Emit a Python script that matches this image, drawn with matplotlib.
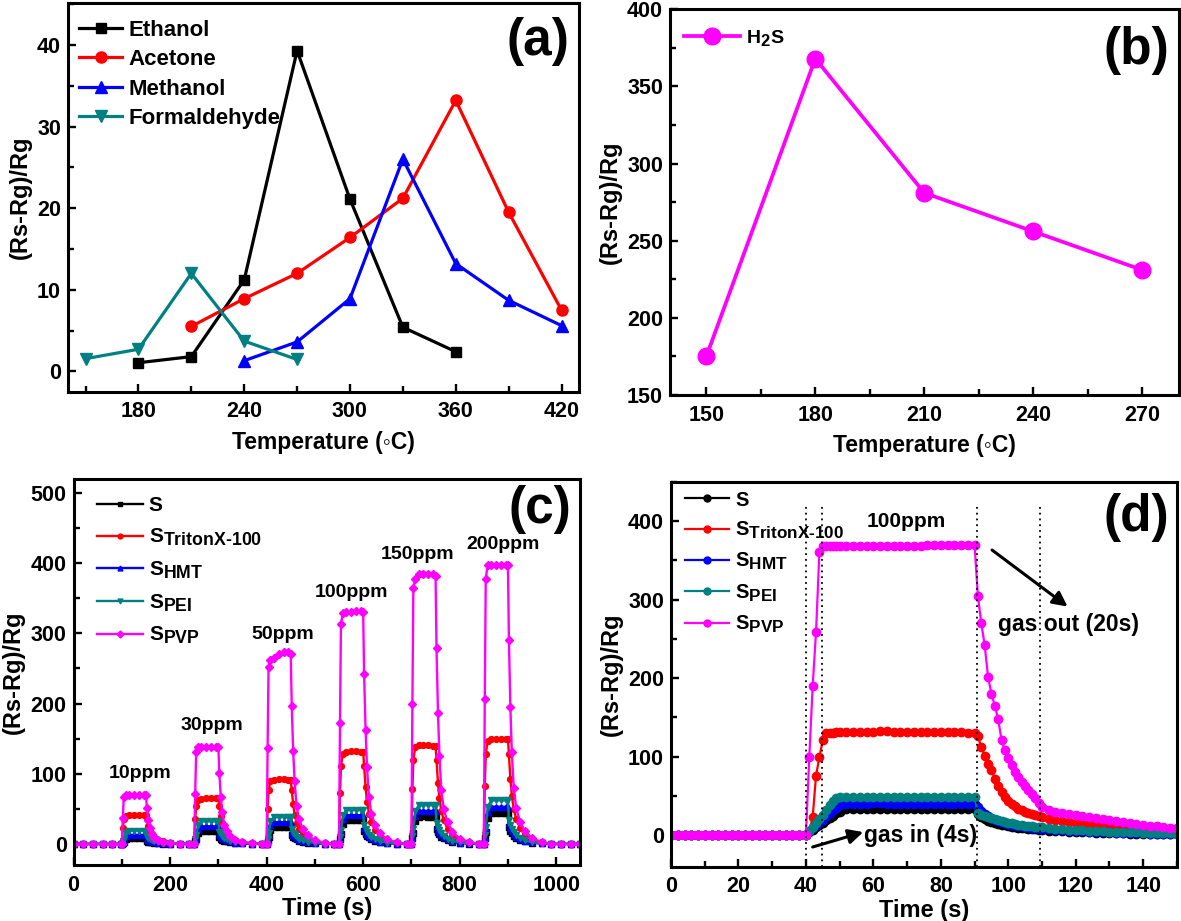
import matplotlib
matplotlib.use("Agg")
import matplotlib.pyplot as plt
from matplotlib.ticker import MultipleLocator
try:
    import matplotlib._mathtext as _mt
    _mt.SHRINK_FACTOR = 0.85
except Exception:
    pass

plt.rcParams['font.family'] = ['Liberation Sans', 'DejaVu Sans']
plt.rcParams['font.weight'] = 'bold'
plt.rcParams['axes.labelweight'] = 'bold'
plt.rcParams['mathtext.fontset'] = 'custom'
plt.rcParams['mathtext.rm'] = 'Liberation Sans:bold'
plt.rcParams['mathtext.it'] = 'Liberation Sans:bold'
plt.rcParams['mathtext.bf'] = 'Liberation Sans:bold'

# ---------------- (a) ----------------
ethanol_T = [180, 210, 240, 270, 300, 330, 360]
ethanol_R = [1.05, 1.8, 11.2, 39.3, 21.1, 5.4, 2.4]
acetone_T = [210, 240, 270, 300, 330, 360, 390, 420]
acetone_R = [5.5, 8.9, 12.0, 16.4, 21.2, 33.2, 19.5, 7.5]
methanol_T = [240, 270, 300, 330, 360, 390, 420]
methanol_R = [1.3, 3.6, 8.9, 26.0, 13.2, 8.7, 5.6]
formal_T = [150, 180, 210, 240, 270]
formal_R = [1.55, 2.7, 12.0, 3.7, 1.45]

# ---------------- (b) ----------------
h2s_T = [150, 180, 210, 240, 270]
h2s_R = [175, 368, 281, 256, 231]

# ---------------- (c) ----------------
t_c = [0, 20, 40, 60, 80, 98,
       100, 102, 104, 108, 115, 125, 135, 145, 150, 152, 155, 158, 162, 167, 175, 185, 200, 220, 240,
       250, 252, 254, 258, 265, 275, 285, 295, 300, 302, 305, 308, 312, 317, 325, 335, 350, 370, 390,
       400, 402, 404, 408, 415, 425, 435, 445, 450, 452, 455, 458, 462, 467, 475, 485, 500, 520, 540,
       550, 552, 554, 558, 565, 575, 585, 595, 600, 602, 605, 608, 612, 617, 625, 635, 650, 670, 690,
       700, 702, 704, 708, 715, 725, 735, 745, 750, 752, 755, 758, 762, 767, 775, 785, 800, 820, 840,
       850, 852, 854, 858, 865, 875, 885, 895, 900, 902, 905, 908, 912, 917, 925, 935, 950, 970, 990,
       1010, 1030, 1050]
S_c = [0, 0, 0, 0, 0, 0,
       0, 1.6, 3.2, 6.8, 8.0, 8.1, 8.0, 7.9, 8.0, 4.4, 3.4, 2.8, 2.2, 1.6, 1.1, 0.6, 0.3, 0.1, 0,
       0, 3.6, 7.2, 15.3, 18.0, 18.2, 18.1, 18.0, 18.0, 9.9, 7.7, 6.3, 4.9, 3.6, 2.5, 1.4, 0.7, 0.3, 0,
       0, 4.8, 9.6, 20.4, 24.0, 24.2, 24.1, 24.0, 24.0, 13.2, 10.3, 8.4, 6.5, 4.8, 3.4, 1.9, 1.0, 0.4, 0,
       0, 6.8, 13.6, 28.9, 34.0, 34.2, 34.1, 34.0, 34.0, 18.7, 14.6, 11.9, 9.2, 6.8, 4.8, 2.7, 1.4, 0.5, 0,
       0, 7.8, 15.6, 33.2, 39.0, 39.2, 39.1, 39.0, 39.0, 21.5, 16.8, 13.7, 10.5, 7.8, 5.5, 3.1, 1.6, 0.6, 0,
       0, 8.8, 17.6, 37.4, 44.0, 44.2, 44.1, 44.0, 44.0, 24.2, 18.9, 15.4, 11.9, 8.8, 6.2, 3.5, 1.8, 0.7, 0,
       0, 0, 0]
HMT_c = [0, 0, 0, 0, 0, 0,
         0, 2.6, 5.2, 11.1, 13.0, 13.1, 13.0, 13.0, 13.0, 7.2, 5.6, 4.6, 3.5, 2.6, 1.8, 1.0, 0.5, 0.2, 0,
         0, 5.0, 10.0, 21.3, 25.0, 25.2, 25.1, 25.0, 25.0, 13.8, 10.8, 8.8, 6.8, 5.0, 3.5, 2.0, 1.0, 0.4, 0,
         0, 6.2, 12.4, 26.4, 31.0, 31.2, 31.1, 31.0, 31.0, 17.1, 13.3, 10.9, 8.4, 6.2, 4.3, 2.5, 1.2, 0.5, 0,
         0, 8.2, 16.4, 34.9, 41.0, 41.2, 41.1, 41.0, 41.0, 22.6, 17.6, 14.4, 11.1, 8.2, 5.7, 3.3, 1.6, 0.6, 0,
         0, 9.4, 18.8, 40.0, 47.0, 47.2, 47.1, 47.0, 47.0, 25.9, 20.2, 16.5, 12.7, 9.4, 6.6, 3.8, 1.9, 0.7, 0,
         0, 10.6, 21.2, 45.1, 53.0, 53.2, 53.1, 53.0, 53.0, 29.2, 22.8, 18.6, 14.3, 10.6, 7.4, 4.2, 2.1, 0.8, 0,
         0, 0, 0]
PEI_c = [0, 0, 0, 0, 0, 0,
         0, 3.8, 7.6, 16.2, 19.0, 19.1, 19.0, 19.0, 19.0, 10.5, 8.2, 6.7, 5.1, 3.8, 2.7, 1.5, 0.8, 0.3, 0,
         0, 6.4, 12.8, 27.2, 32.0, 32.2, 32.1, 32.0, 32.0, 17.6, 13.8, 11.2, 8.6, 6.4, 4.5, 2.6, 1.3, 0.5, 0,
         0, 7.6, 15.2, 32.3, 38.0, 38.2, 38.1, 38.0, 38.0, 20.9, 16.3, 13.3, 10.3, 7.6, 5.3, 3.0, 1.5, 0.6, 0,
         0, 9.6, 19.2, 40.8, 48.0, 48.2, 48.1, 48.0, 48.0, 26.4, 20.6, 16.8, 13.0, 9.6, 6.7, 3.8, 1.9, 0.7, 0,
         0, 11.0, 22.0, 46.8, 55.0, 55.2, 55.1, 55.0, 55.0, 30.3, 23.7, 19.3, 14.9, 11.0, 7.7, 4.4, 2.2, 0.8, 0,
         0, 12.4, 24.8, 52.7, 62.0, 62.2, 62.1, 62.0, 62.0, 34.1, 26.7, 21.7, 16.7, 12.4, 8.7, 5.0, 2.5, 0.9, 0,
         0, 0, 0]
Triton_c = [0, 0, 0, 0, 0, 0,
            0, 22.6, 34.9, 40.2, 41.0, 41.0, 41.0, 41.0, 41.0, 34.9, 25.4, 18.9, 13.5, 9.8, 6.2, 3.7, 1.6, 0.6, 0,
            0, 35.2, 54.4, 62.7, 64.0, 65.0, 65.0, 65.0, 65.0, 54.4, 39.7, 29.4, 21.1, 15.4, 9.6, 5.8, 2.6, 1.0, 0,
            0, 50.0, 77.4, 89.2, 91.0, 92.0, 92.0, 91.0, 91.0, 77.4, 56.4, 41.9, 30.0, 21.8, 13.7, 8.2, 3.6, 1.4, 0,
            0, 72.0, 111.4, 128.4, 131.0, 132.0, 132.0, 131.0, 131.0, 111.4, 81.2, 60.3, 43.2, 31.4, 19.7, 11.8, 5.2, 2.0, 0,
            0, 77.6, 119.9, 138.2, 141.0, 141.0, 141.0, 140.0, 140.0, 119.9, 87.4, 64.9, 46.5, 33.8, 21.2, 12.7, 5.6, 2.1, 0,
            0, 82.5, 127.5, 147.0, 150.0, 150.0, 150.0, 150.0, 150.0, 127.5, 93.0, 69.0, 49.5, 36.0, 22.5, 13.5, 6.0, 2.3, 0,
            0, 0, 0]
PVP_c = [0, 0, 0, 0, 0, 0,
         0, 36.4, 66.5, 70.0, 70.0, 70.0, 70.0, 70.0, 70.0, 51.1, 34.3, 23.1, 14.0, 9.1, 5.6, 3.2, 1.4, 0.5, 0,
         0, 71.8, 131.1, 138.0, 138.0, 138.0, 138.0, 138.0, 138.0, 100.7, 67.6, 45.5, 27.6, 17.9, 11.0, 6.2, 2.8, 1.0, 0,
         0, 137.0, 252.0, 262.0, 265.0, 270.0, 274.0, 273.0, 270.0, 197.0, 132.0, 89.0, 54.0, 35.0, 21.6, 12.2, 5.4, 1.9, 0,
         0, 172.0, 314.0, 329.0, 331.0, 331.0, 332.0, 332.0, 331.0, 241.6, 162.2, 109.2, 66.2, 43.0, 26.5, 14.9, 6.6, 2.3, 0,
         0, 199.7, 364.8, 378.0, 384.0, 385.0, 385.0, 384.0, 382.0, 278.9, 187.2, 126.0, 76.4, 49.7, 30.6, 17.2, 7.6, 2.7, 0,
         0, 207.0, 378.1, 398.0, 398.0, 398.0, 398.0, 398.0, 398.0, 290.5, 195.0, 131.3, 79.6, 51.7, 31.8, 17.9, 8.0, 2.8, 0,
         0, 0, 0]
ppm_labels = ['10ppm', '30ppm', '50ppm', '100ppm', '150ppm', '200ppm']
ppm_x = [137, 286, 434, 576, 713, 890]
ppm_y = [101, 169, 299, 358, 413, 427]

# ---------------- (d) ----------------
t_d = [0, 2, 4, 6, 8, 10, 12, 14, 16, 18, 20, 22, 24, 26, 28, 30, 32, 34, 36, 38, 40,
       41, 42, 43, 44, 45, 46, 47, 48, 49, 50,
       52, 54, 56, 58, 60, 62, 64, 66, 68, 70, 72, 74, 76, 78, 80, 82, 84, 86, 88, 90,
       91, 92, 93, 94, 95, 96, 97, 98, 99, 100, 101, 102, 103, 104, 105, 106, 107, 108, 109, 110,
       112, 114, 116, 118, 120, 122, 124, 126, 128, 130, 132, 134, 136, 138, 140, 142, 144, 146, 148, 150]
S_d = [0, 0, 0, 0, 0, 0, 0, 0, 0, 0, 0, 0, 0, 0, 0, 0, 0, 0, 0, 0, 0,
       4, 7, 10, 13, 16, 19, 22, 25, 28, 30,
       33, 33, 33, 33, 33.5, 33.5, 33, 33, 33, 33, 33, 33, 33, 33, 33, 33, 33, 33, 33, 33,
       27, 23, 20.5, 18.5, 17, 15.6, 14.5, 13.5, 12.6, 11.8, 11, 10.3, 9.7, 9.1, 8.6, 8.1, 7.7, 7.3, 6.9, 6.6,
       6, 5.5, 5, 4.6, 4.2, 3.9, 3.6, 3.3, 3, 2.8, 2.6, 2.4, 2.2, 2, 1.8, 1.7, 1.5, 1.4, 1.3, 1.2]
HMT_d = [0, 0, 0, 0, 0, 0, 0, 0, 0, 0, 0, 0, 0, 0, 0, 0, 0, 0, 0, 0, 0,
         5, 9, 13, 16, 20, 24, 28, 32, 35, 38,
         40, 40, 40, 40, 40.5, 40.5, 40, 40, 40, 40, 40, 40, 40, 40, 40, 40, 40, 40, 40, 40,
         36, 31, 27, 24, 21.5, 19.5, 18, 16.6, 15.4, 14.4, 13.5, 12.7, 12, 11.3, 10.7, 10.1, 9.6, 9.1, 8.7, 8.3,
         7.6, 7, 6.4, 5.9, 5.4, 5, 4.6, 4.2, 3.9, 3.6, 3.3, 3, 2.8, 2.6, 2.4, 2.2, 2, 1.8, 1.6, 1.5]
PEI_d = [0, 0, 0, 0, 0, 0, 0, 0, 0, 0, 0, 0, 0, 0, 0, 0, 0, 0, 0, 0, 0,
         5, 10, 15, 21, 26, 32, 38, 44, 48, 49,
         49, 49, 49, 49, 49, 49, 49, 49, 49, 49, 49, 49, 49, 49, 49, 49, 49, 49, 49, 49,
         28, 26, 24.5, 23, 21.5, 20.2, 19, 17.9, 16.9, 16, 15.1, 14.3, 13.6, 12.9, 12.3, 11.7, 11.2, 10.7, 10.3, 9.9,
         9.1, 8.4, 7.8, 7.2, 6.7, 6.2, 5.8, 5.4, 5, 4.7, 4.4, 4.1, 3.8, 3.5, 3.3, 3, 2.8, 2.6, 2.4, 2.2]
Triton_d = [0, 0, 0, 0, 0, 0, 0, 0, 0, 0, 0, 0, 0, 0, 0, 0, 0, 0, 0, 0, 0,
            5, 23, 76, 100, 121, 130, 130, 130, 131, 131,
            131, 131, 131, 132, 132, 133, 133, 132, 132, 131, 131, 131, 131, 131, 131, 131, 131, 131, 130, 130,
            126, 112, 101, 91, 83, 72, 63, 55, 49, 44, 40, 37, 34, 32, 30, 28.5, 27, 25.5, 24.2, 23,
            21, 19.5, 18, 16.8, 15.6, 14.6, 13.7, 12.8, 12, 11.3, 10.6, 10, 9.4, 8.8, 8.3, 7.8, 7.3, 6.9, 6.5, 6.1]
PVP_d = [0, 0, 0, 0, 0, 0, 0, 0, 0, 0, 0, 0, 0, 0, 0, 0, 0, 0, 0, 0, 0,
         100, 190, 259, 361, 368, 368, 368, 368, 368, 368,
         368, 368, 368, 368, 368, 368, 368, 368, 368, 368, 368, 368, 370, 370, 370, 370, 370, 370, 370, 370,
         304, 270, 242, 202, 180, 165, 148, 121, 108, 98, 89, 81, 74, 68, 63, 58, 53, 47, 41, 36,
         32, 30, 28.5, 27, 25.5, 24, 22.7, 21.4, 20.2, 19, 17.8, 16.6, 15.5, 14.4, 13.3, 12.3, 11.3, 10.4, 9.5, 8.6]
gas_lines_d = [40, 44.8, 90.7, 109.3]

labels5 = ['S', r'S$_{\mathrm{TritonX\text{-}100}}$', r'S$_{\mathrm{HMT}}$',
           r'S$_{\mathrm{PEI}}$', r'S$_{\mathrm{PVP}}$']
colors5 = ['#000000', '#FF0000', '#0000FF', '#008080', '#FF00FF']

fig = plt.figure(figsize=(11.81, 9.21), dpi=100)
axA = fig.add_axes([0.0575, 0.5747, 0.4329, 0.4217])
axB = fig.add_axes([0.5673, 0.5711, 0.4307, 0.4188])
axC = fig.add_axes([0.0623, 0.0608, 0.4291, 0.4191])
axD = fig.add_axes([0.5682, 0.0590, 0.4283, 0.4180])


def style(ax, xmaj, xmin, ymaj, ymin, lsize=15.5):
    ax.xaxis.set_major_locator(MultipleLocator(xmaj))
    ax.xaxis.set_minor_locator(MultipleLocator(xmin))
    ax.yaxis.set_major_locator(MultipleLocator(ymaj))
    ax.yaxis.set_minor_locator(MultipleLocator(ymin))
    ax.tick_params(which='both', direction='in', top=False, right=False, width=1.7,
                   labelsize=lsize)
    ax.tick_params(which='major', length=5.5)
    ax.tick_params(which='minor', length=4)
    ax.tick_params(axis='x', which='both', pad=7)
    ax.tick_params(axis='y', which='both', pad=5)
    for sp in ax.spines.values():
        sp.set_linewidth(2.2)


# (a)
axA.plot(ethanol_T, ethanol_R, '-s', color='black', lw=2.3, ms=7, label='Ethanol')
axA.plot(acetone_T, acetone_R, '-o', color='#FF0000', lw=2.3, ms=8, label='Acetone')
axA.plot(methanol_T, methanol_R, '-^', color='#0000FF', lw=2.3, ms=8.5, label='Methanol')
axA.plot(formal_T, formal_R, '-v', color='#008080', lw=2.3, ms=8.5, label='Formaldehyde')
axA.set_xlim(140, 430)
axA.set_ylim(-2.5, 45.1)
style(axA, 60, 30, 10, 5)
axA.set_xlabel('Temperature (◦C)', fontsize=16.5, labelpad=6)
axA.set_ylabel('(Rs-Rg)/Rg', fontsize=17, labelpad=4)
axA.legend(loc='upper left', bbox_to_anchor=(0.022, 0.958), borderpad=0, borderaxespad=0,
           frameon=False, handlelength=1.95, handletextpad=0.26, labelspacing=0.38,
           prop={'size': 16, 'weight': 'bold'})
axA.text(0.919, 0.901, '(a)', transform=axA.transAxes, ha='center', va='center',
         fontsize=37, fontweight='bold')

# (b)
axB.plot(h2s_T, h2s_R, '-o', color='#FF00FF', lw=2.7, ms=12, label=r'H$_2$S')
axB.set_xlim(140, 280)
axB.set_ylim(150, 400)
style(axB, 30, 15, 50, 25)
axB.set_xlabel('Temperature (◦C)', fontsize=16.5, labelpad=6)
axB.set_ylabel('(Rs-Rg)/Rg', fontsize=17, labelpad=4)
axB.legend(loc='upper left', bbox_to_anchor=(0.0275, 0.952), borderpad=0, borderaxespad=0,
           frameon=False, handlelength=2.9, handletextpad=0.3,
           prop={'size': 14, 'weight': 'bold'})
axB.text(0.916, 0.894, '(b)', transform=axB.transAxes, ha='center', va='center',
         fontsize=37, fontweight='bold')

# (c)
markers_c = ['s', 'o', '^', 'v', 'D']
for ys, lab, col, mk in zip([S_c, Triton_c, HMT_c, PEI_c, PVP_c], labels5, colors5, markers_c):
    axC.plot(t_c, ys, '-', marker=mk, color=col, lw=1.7, ms=4.2, label=lab)
axC.set_xlim(0, 1050)
axC.set_ylim(-30, 520)
style(axC, 200, 100, 100, 50)
axC.set_xlabel('Time (s)', fontsize=17, labelpad=1)
axC.set_ylabel('(Rs-Rg)/Rg', fontsize=17, labelpad=4)
for lab, x, y in zip(ppm_labels, ppm_x, ppm_y):
    axC.text(x, y, lab, ha='center', va='center', fontsize=14, fontweight='bold')
legC = axC.legend(loc='upper left', bbox_to_anchor=(0.0456, 0.955), borderpad=0, borderaxespad=0,
                  frameon=False, handlelength=2.24, handletextpad=0.25, labelspacing=0.55,
                  prop={'size': 15, 'weight': 'bold'})
for h in legC.legend_handles:
    h.set_markersize(3.5)
axC.text(0.92, 0.92, '(c)', transform=axC.transAxes, ha='center', va='center',
         fontsize=37, fontweight='bold')

# (d)
for ys, lab, col in zip([S_d, Triton_d, HMT_d, PEI_d, PVP_d], labels5, colors5):
    axD.plot(t_d, ys, '-o', color=col, lw=1.6, ms=6, label=lab)
axD.vlines(gas_lines_d, -40, 420, colors='black', linestyles=(0, (1, 2.2)), lw=1.3)
axD.set_xlim(0, 150)
axD.set_ylim(-40, 450)
style(axD, 20, 10, 100, 50)
axD.set_xlabel('Time (s)', fontsize=17, labelpad=1)
axD.set_ylabel('(Rs-Rg)/Rg', fontsize=17, labelpad=4)
legD = axD.legend(loc='upper left', bbox_to_anchor=(0.0277, 0.977), borderpad=0, borderaxespad=0,
                  frameon=False, handlelength=2.2, handletextpad=0.3, labelspacing=0.5,
                  prop={'size': 14.5, 'weight': 'bold'})
for h in legD.legend_handles:
    h.set_markersize(5)
axD.text(69.7, 399, '100ppm', ha='center', va='center', fontsize=15, fontweight='bold')
axD.text(118, 268, 'gas out (20s)', ha='center', va='center', fontsize=16.5, fontweight='bold')
axD.text(57.3, 0, 'gas in (4s)', ha='left', va='center', fontsize=16.5, fontweight='bold')
axD.annotate('', xy=(117.6, 291), xytext=(95.2, 363),
             arrowprops=dict(arrowstyle='-|>', color='black', lw=2.2, mutation_scale=22,
                             shrinkA=0, shrinkB=0))
axD.annotate('', xy=(57.0, 4), xytext=(42.0, -15),
             arrowprops=dict(arrowstyle='-|>', color='black', lw=2.2, mutation_scale=22,
                             shrinkA=0, shrinkB=0))
axD.text(0.919, 0.906, '(d)', transform=axD.transAxes, ha='center', va='center',
         fontsize=37, fontweight='bold')

fig.savefig('out.png', dpi=100)
